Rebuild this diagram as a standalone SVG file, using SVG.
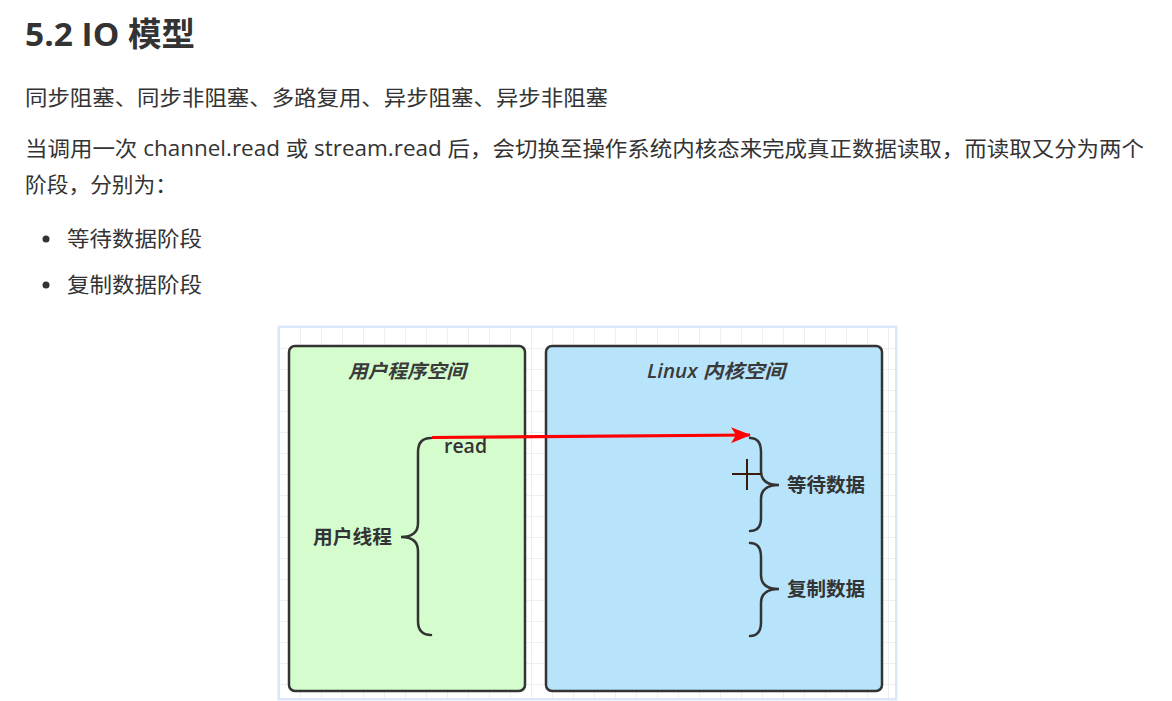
<svg xmlns="http://www.w3.org/2000/svg" width="1172" height="701" viewBox="0 0 1172 701">
  <defs>
    <pattern id="grid" x="280" y="328" width="21" height="21" patternUnits="userSpaceOnUse">
      <path d="M21 0V21M0 21H21" fill="none" stroke="#dedede" stroke-width="1"/>
    </pattern>
    <marker id="arrow" viewBox="0 0 20 16" refX="19" refY="8" markerWidth="20" markerHeight="16" markerUnits="userSpaceOnUse" orient="auto">
      <path d="M0 0L20 8L0 16L5 8Z" fill="#ff0000"/>
    </marker>
    <style>
      .body { font-family: "Open Sans", "Noto Sans CJK SC", sans-serif; font-size: 21px; fill: #333; }
      .title { font-family: "Open Sans", "Noto Sans CJK SC", sans-serif; font-size: 33px; font-weight: bold; fill: #333; }
      .box { stroke: #333; stroke-width: 2.5; }
      .head { font-family: "Open Sans", "Noto Sans CJK SC", sans-serif; font-size: 19px; font-style: italic; font-weight: 600; fill: #3a3a3a; text-anchor: middle; }
      .lbl { font-family: "Open Sans", "Noto Sans CJK SC", sans-serif; font-size: 19px; font-weight: 600; fill: #333; }
      .brace { fill: none; stroke: #333; stroke-width: 2.5; stroke-linecap: round; }
    </style>
  </defs>
  <rect width="1172" height="701" fill="#ffffff"/>

  <g id="text">
    <text class="title" x="25" y="46" textLength="170" lengthAdjust="spacingAndGlyphs">5.2 IO 模型</text>
    <text class="body" x="25" y="105" textLength="583" lengthAdjust="spacingAndGlyphs">同步阻塞、同步非阻塞、多路复用、异步阻塞、异步非阻塞</text>
    <text class="body" x="25" y="156" textLength="1119" lengthAdjust="spacingAndGlyphs">当调用一次 channel.read 或 stream.read 后，会切换至操作系统内核态来完成真正数据读取，而读取又分为两个</text>
    <text class="body" x="25" y="192" textLength="152" lengthAdjust="spacingAndGlyphs">阶段，分别为：</text>
    <circle cx="46" cy="239" r="3.5" fill="#333"/>
    <text class="body" x="67" y="246" textLength="135" lengthAdjust="spacingAndGlyphs">等待数据阶段</text>
    <circle cx="46" cy="285" r="3.5" fill="#333"/>
    <text class="body" x="67" y="292" textLength="135" lengthAdjust="spacingAndGlyphs">复制数据阶段</text>
  </g>

  <g id="canvas">
    <rect x="279" y="327" width="617" height="372" fill="none" stroke="#dbe8fb" stroke-width="3"/>
    <rect x="280" y="328" width="615" height="370" fill="#ffffff"/>
    <rect x="280" y="328" width="615" height="370" fill="url(#grid)"/>
  </g>

  <g id="user-space">
    <rect class="box" x="289" y="346" width="236" height="345" rx="6" fill="#d4fccc"/>
    <text class="head" x="407" y="378" textLength="118" lengthAdjust="spacingAndGlyphs">用户程序空间</text>
  </g>

  <g id="kernel-space">
    <rect class="box" x="546" y="346" width="336" height="345" rx="6" fill="#b8e4fb"/>
    <text class="head" x="716" y="378" textLength="138" lengthAdjust="spacingAndGlyphs">Linux 内核空间</text>
  </g>

  <g id="user-thread">
    <path class="brace" d="M431 438Q418 438 418 452V523Q418 537 401 537Q418 537 418 551V621Q418 635 431 635"/>
    <text class="lbl" x="392" y="544" text-anchor="end" textLength="79" lengthAdjust="spacingAndGlyphs">用户线程</text>
  </g>

  <g id="wait-data">
    <path class="brace" d="M750 438Q761 438 761 452V471Q761 485 779 485Q761 485 761 499V518Q761 531 750 531"/>
    <text class="lbl" x="787" y="492" textLength="78" lengthAdjust="spacingAndGlyphs">等待数据</text>
  </g>

  <g id="copy-data">
    <path class="brace" d="M750 543Q761 543 761 557V575Q761 589 779 589Q761 589 761 603V622Q761 636 750 636"/>
    <text class="lbl" x="787" y="596" textLength="78" lengthAdjust="spacingAndGlyphs">复制数据</text>
  </g>

  <g id="connectors">
    <line x1="432" y1="437.5" x2="750" y2="435" stroke="#ff0000" stroke-width="3.2" marker-end="url(#arrow)"/>
    <text class="lbl" x="444" y="453" textLength="43" lengthAdjust="spacingAndGlyphs">read</text>
  </g>

  <g id="cursor">
    <line x1="732" y1="474" x2="761" y2="474" stroke="#3a1a0a" stroke-width="2"/>
    <line x1="747" y1="459" x2="747" y2="490" stroke="#3a1a0a" stroke-width="2"/>
  </g>
</svg>
